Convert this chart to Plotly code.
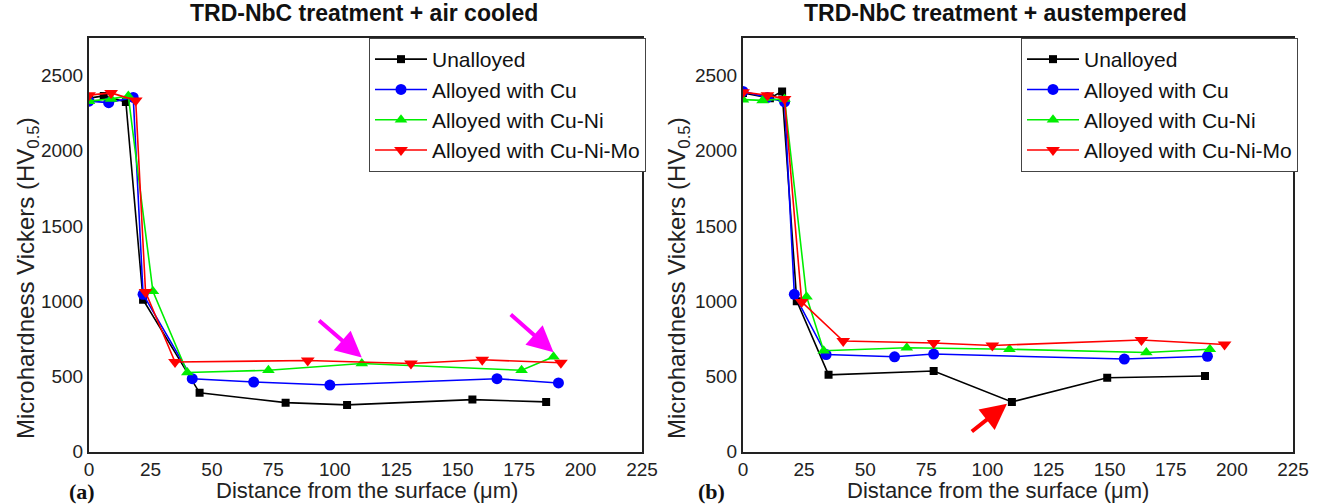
import plotly.graph_objects as go

# ---------------- data ----------------
series_names = ["Unalloyed", "Alloyed with Cu", "Alloyed with Cu-Ni", "Alloyed with Cu-Ni-Mo"]

# (a) TRD-NbC treatment + air cooled
a_unalloyed_x = [0, 6, 15, 22, 45, 80, 105, 156, 186]
a_unalloyed_y = [2350, 2365, 2325, 1010, 390, 325, 310, 345, 330]
a_cu_x = [0, 8, 18, 22, 42, 67, 98, 166, 191]
a_cu_y = [2330, 2320, 2355, 1045, 484, 462, 442, 484, 456]
a_cuni_x = [0, 9, 16, 26, 40, 73, 111, 176, 189]
a_cuni_y = [2330, 2345, 2365, 1065, 525, 540, 585, 540, 630]
a_cunimo_x = [0, 9, 19, 23, 35, 89, 131, 160, 192]
a_cunimo_y = [2370, 2385, 2335, 1060, 595, 605, 585, 610, 590]

# (b) TRD-NbC treatment + austempered
b_unalloyed_x = [0, 11, 16, 22, 35, 78, 110, 149, 189]
b_unalloyed_y = [2385, 2350, 2395, 1000, 510, 535, 330, 490, 502]
b_cu_x = [0, 10, 17, 21, 34, 62, 78, 156, 190]
b_cu_y = [2395, 2355, 2325, 1045, 645, 630, 648, 615, 633]
b_cuni_x = [0, 8, 17, 26, 33, 67, 109, 165, 191]
b_cuni_y = [2340, 2335, 2345, 1030, 670, 690, 680, 658, 680]
b_cunimo_x = [0, 10, 17, 24, 41, 78, 102, 163, 197]
b_cunimo_y = [2390, 2370, 2345, 995, 735, 722, 705, 742, 712]

x_ticks = [0, 25, 50, 75, 100, 125, 150, 175, 200, 225]
y_ticks = [0, 500, 1000, 1500, 2000, 2500]

titles = ["TRD-NbC treatment + air cooled", "TRD-NbC treatment + austempered"]
panel_labels = ["(a)", "(b)"]
x_title = "Distance from the surface (\u03bcm)"
y_title = "Microhardness Vickers (HV<sub>0.5</sub>)"

# ---------------- styles ----------------
colors = ["#000000", "#0000ff", "#00ee00", "#ff0000"]
symbols = ["square", "circle", "triangle-up", "triangle-down"]
msizes = [8, 11, 11, 12]
FONT = "Liberation Sans, Arial, sans-serif"

W, H = 1318, 504
def px(v):
    return v / W
def py(v):
    return (H - v) / H

dom_a = [px(89), px(642)]
dom_b = [px(743), px(1293)]
dom_y = [py(451.5), py(38)]

fig = go.Figure()

panels = [
    ("x", "y", "legend", [(a_unalloyed_x, a_unalloyed_y), (a_cu_x, a_cu_y),
                          (a_cuni_x, a_cuni_y), (a_cunimo_x, a_cunimo_y)]),
    ("x2", "y2", "legend2", [(b_unalloyed_x, b_unalloyed_y), (b_cu_x, b_cu_y),
                             (b_cuni_x, b_cuni_y), (b_cunimo_x, b_cunimo_y)]),
]
for xa, ya, lg, data in panels:
    for i, (xs, ys) in enumerate(data):
        fig.add_trace(go.Scatter(
            x=xs, y=ys, mode="lines+markers", name=series_names[i],
            xaxis=xa, yaxis=ya, legend=lg,
            line=dict(color=colors[i], width=1.6),
            marker=dict(symbol=symbols[i], size=msizes[i], color=colors[i],
                        line=dict(width=0)),
        ))

axis_common = dict(
    showgrid=False, zeroline=False, showline=True, mirror=True,
    linecolor="#222", linewidth=2, ticks="", automargin=False,
    tickfont=dict(family=FONT, size=19, color="#222"),
)
fig.update_layout(
    xaxis=dict(domain=dom_a, range=[0, 225], tickvals=x_ticks, anchor="y", **axis_common),
    yaxis=dict(domain=dom_y, range=[0, 2750], tickvals=y_ticks, anchor="x", **axis_common),
    xaxis2=dict(domain=dom_b, range=[0, 225], tickvals=x_ticks, anchor="y2", **axis_common),
    yaxis2=dict(domain=dom_y, range=[0, 2750], tickvals=y_ticks, anchor="x2", **axis_common),
)

legend_common = dict(
    xanchor="right", yanchor="top", y=py(38),
    bgcolor="white", bordercolor="#444", borderwidth=1,
    font=dict(family=FONT, size=21, color="#111"),
    tracegroupgap=0, itemwidth=52,
)
fig.update_layout(
    legend=dict(x=px(646), **legend_common),
    legend2=dict(x=px(1298), **legend_common),
)

ann = []
title_cx = [px(364), px(995)]
xt_cx = [px(367), px(998)]
yt_cx = [px(27), px(678)]
for i in range(2):
    ann.append(dict(text="<b>%s</b>" % titles[i], x=title_cx[i], y=py(13), xref="paper", yref="paper",
                    xanchor="center", yanchor="middle",
                    showarrow=False, font=dict(family=FONT, size=23, color="#111")))
    ann.append(dict(text=x_title, x=xt_cx[i], y=py(490), xref="paper", yref="paper",
                    xanchor="center", yanchor="middle",
                    showarrow=False, font=dict(family=FONT, size=22, color="#222")))
    ann.append(dict(text=y_title, x=yt_cx[i], y=py(278), xref="paper", yref="paper",
                    xanchor="center", yanchor="middle",
                    textangle=-90, showarrow=False, font=dict(family=FONT, size=24, color="#222")))
lab_pos = [px(82), px(712)]
for i in range(2):
    ann.append(dict(text="<b>%s</b>" % panel_labels[i], x=lab_pos[i], y=py(491),
                    xref="paper", yref="paper", showarrow=False,
                    xanchor="center", yanchor="middle",
                    font=dict(family="Liberation Serif, Times New Roman, serif", size=22, color="#111")))

# arrows
arrow_defs = [
    ("x", "y", 93, 880, 111, 625, "#ff00ff"),
    ("x", "y", 171, 920, 189, 660, "#ff00ff"),
    ("x2", "y2", 93, 125, 108, 318, "#ff0000"),
]
for xr, yr, tx, ty, hx, hy, col in arrow_defs:
    ann.append(dict(x=hx, y=hy, ax=tx, ay=ty, xref=xr, yref=yr, axref=xr, ayref=yr,
                    showarrow=True, arrowhead=2, arrowsize=1.3, arrowwidth=4,
                    arrowcolor=col, standoff=0, text=""))

fig.update_layout(
    annotations=ann,
    width=W, height=H,
    margin=dict(l=0, r=0, t=0, b=0, pad=0, autoexpand=False),
    paper_bgcolor="white", plot_bgcolor="white",
    showlegend=True,
)

fig.write_html("out.html", config={"displayModeBar": False},
               post_script="document.body.style.margin='0';")
